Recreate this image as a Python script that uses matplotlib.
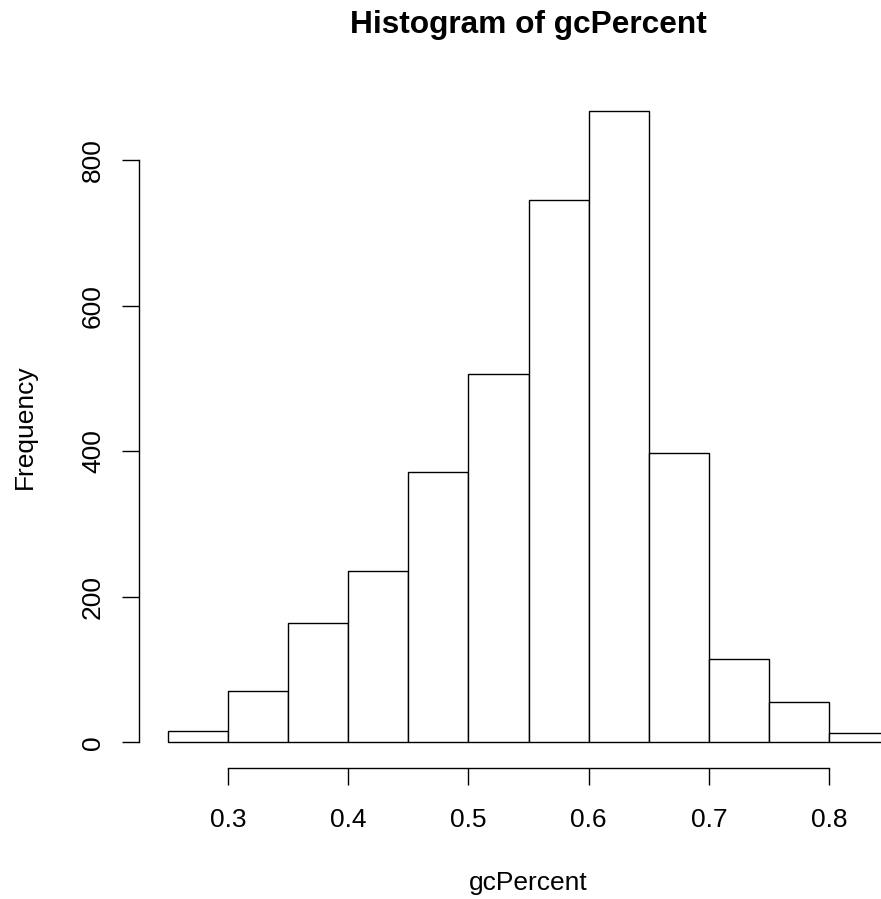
import matplotlib
matplotlib.use("Agg")
import matplotlib.pyplot as plt
import numpy as np

# bin edges and counts of the gcPercent histogram
bin_edges = [0.25, 0.30, 0.35, 0.40, 0.45, 0.50, 0.55, 0.60, 0.65, 0.70, 0.75, 0.80, 0.85]
counts = [16, 70, 164, 236, 372, 506, 745, 867, 397, 114, 56, 13]
x_ticks = [0.3, 0.4, 0.5, 0.6, 0.7, 0.8]
y_ticks = [0, 200, 400, 600, 800]

plt.rcParams['font.family'] = ['Liberation Sans', 'DejaVu Sans']
plt.rcParams['font.size'] = 19

W, H = 881, 899
fig = plt.figure(figsize=(W / 100, H / 100), dpi=100)

# plot region in pixels (R style: 4% padding around the data range)
left_px, right_px, top_px, bottom_px = 139, 918, 86.2, 767.5
ax = fig.add_axes([left_px / W, 1 - bottom_px / H,
                   (right_px - left_px) / W, (bottom_px - top_px) / H])

lo, hi = bin_edges[0], bin_edges[-1]
ax.set_xlim(lo - 0.04 * (hi - lo), hi + 0.04 * (hi - lo))
ymax = max(counts)
ax.set_ylim(-0.04 * ymax, 1.04 * ymax)

widths = np.diff(bin_edges)
ax.bar(bin_edges[:-1], counts, width=widths, align='edge',
       facecolor='white', edgecolor='black', linewidth=1.0)

for side in ['top', 'right']:
    ax.spines[side].set_visible(False)
ax.spines['left'].set_bounds(y_ticks[0], y_ticks[-1])
ax.spines['bottom'].set_bounds(x_ticks[0], x_ticks[-1])
for side in ['left', 'bottom']:
    ax.spines[side].set_linewidth(1.0)

ax.set_xticks(x_ticks)
ax.set_xticklabels([str(t) for t in x_ticks])
ax.set_yticks(y_ticks)
ax.set_yticklabels([str(t) for t in y_ticks])
ax.tick_params(axis='both', direction='out', length=12.2, width=1.0, color='black')
ax.tick_params(axis='x', pad=16.7)
ax.tick_params(axis='y', pad=15.9)
for lab in ax.get_yticklabels():
    lab.set_rotation(90)
    lab.set_rotation_mode('anchor')
    lab.set_ha('center')
    lab.set_va('baseline')

cx = (left_px + right_px) / 2 / W
fig.text(cx, 1 - 33 / H, "Histogram of gcPercent", ha='center', va='baseline',
         fontsize=22.8, fontweight='bold')
fig.text(cx, 1 - 890 / H, "gcPercent", ha='center', va='baseline')
fig.text(32 / W, 1 - 427 / H, "Frequency", rotation=90, rotation_mode='anchor',
         ha='center', va='baseline')

fig.savefig("out.png", dpi=100)
